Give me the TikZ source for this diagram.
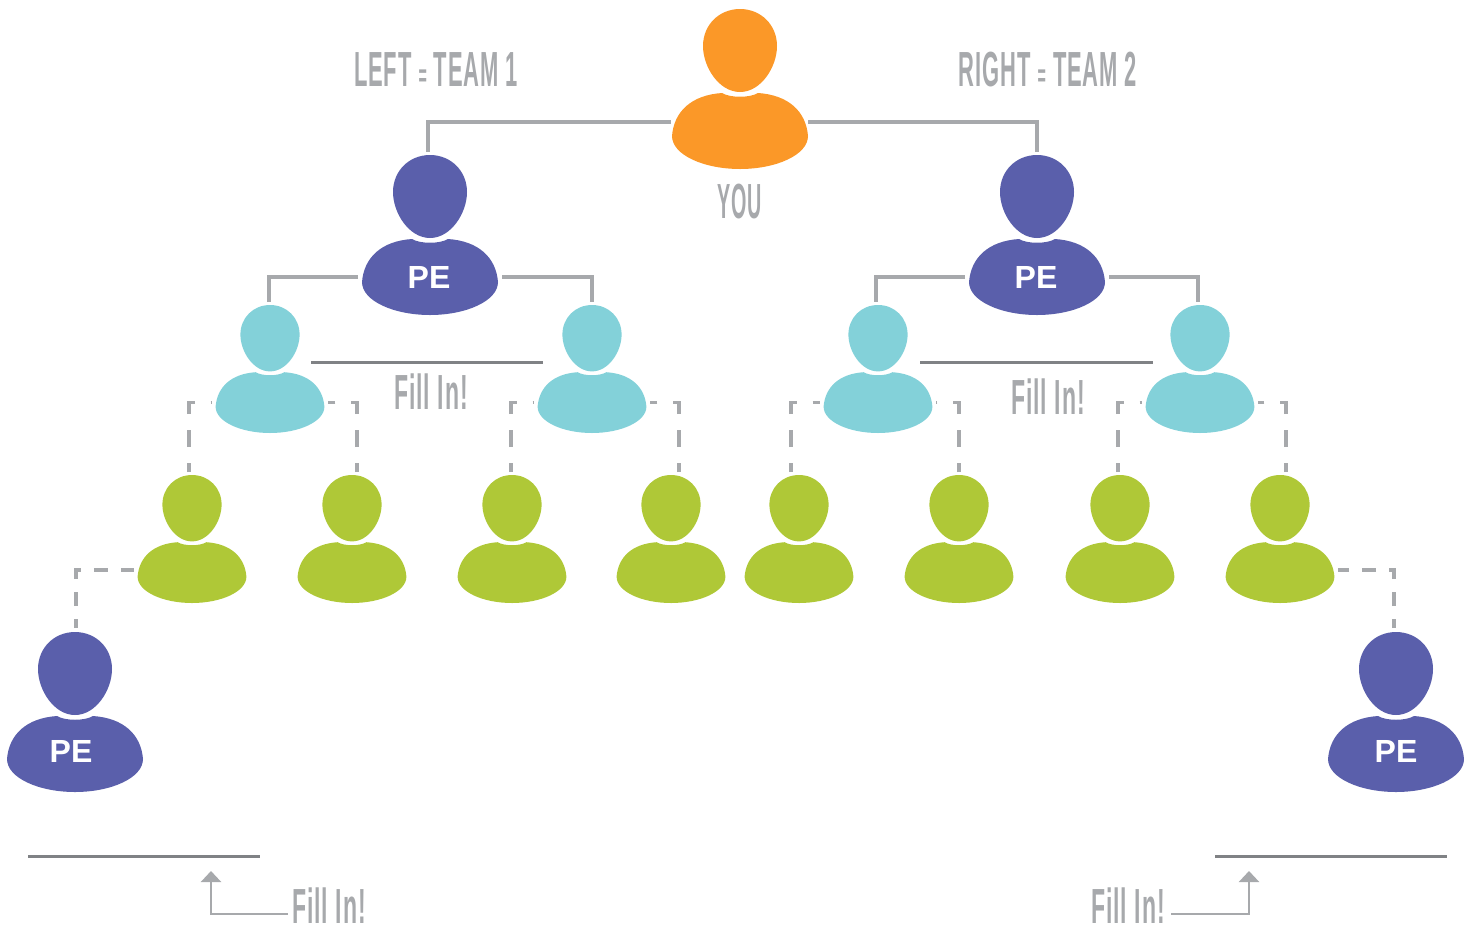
\documentclass[tikz,border=0pt]{standalone}
\usepackage{fontspec}
\usetikzlibrary{arrows.meta}
\newfontfamily\labelfont[LetterSpace=4]{Liberation Sans}
\newfontfamily\badgefont{Liberation Sans}
\definecolor{youorange}{HTML}{FB9828}
\definecolor{pepurple}{HTML}{5A5FAB}
\definecolor{legteal}{HTML}{83D1D9}
\definecolor{fillgreen}{HTML}{AFC837}
\definecolor{linkgrey}{HTML}{A7A9AC}
\definecolor{blankgrey}{HTML}{808285}
\tikzset{
  person/.pic={
    \fill[pic actions] (0,0) .. controls (21,0) and (37,16) .. (37,37)
      .. controls (37,58) and (21,83) .. (0,83)
      .. controls (-21,83) and (-37,58) .. (-37,37)
      .. controls (-37,16) and (-21,0) .. (0,0) -- cycle;
    \fill[pic actions] (-18,84) .. controls (-10,89) and (10,89) .. (18,84)
      .. controls (48,86) and (66,102) .. (68,127)
      .. controls (68,146) and (36,160) .. (0,160)
      .. controls (-36,160) and (-68,146) .. (-68,127)
      .. controls (-66,102) and (-48,86) .. (-18,84) -- cycle;
    \coordinate (-west) at (-72,122);
    \coordinate (-east) at (72,122);
  },
  link/.style={color=linkgrey, line width=2.5pt},
  dashlink/.style={link, dash pattern=on 12.75pt off 12pt, dash phase=6pt},
  sidelink/.style={link, dash pattern=on 10.5pt off 9.75pt, dash phase=3.75pt},
  blank/.style={color=blankgrey, line width=2.25pt},
  pointer/.style={color=linkgrey, line width=1.75pt, -{Triangle[width=15pt,length=8.25pt]}},
  badge/.style={text=white, font=\badgefont\bfseries\fontsize{24}{24}\selectfont},
  handtext/.style={text=linkgrey, inner sep=0pt, xscale=0.445, font=\labelfont\bfseries\fontsize{37}{37}\selectfont},
  filltext/.style={handtext, xscale=1.05}
}
\newcommand{\smalleq}{{\fontsize{24}{24}\selectfont =}}
\begin{document}
\begin{tikzpicture}[x=0.75pt, y=-0.75pt]
    \useasboundingbox (0,0) rectangle (1474,929);

    % draw the people
    \pic[fill=youorange] (you) at (740,9) {person};
    \foreach \name/\x/\y in {leadA/430/155, leadB/1037/155, sideA/75/632, sideB/1396/632}
      \pic[fill=pepurple] (\name) at (\x,\y) {person};
    \foreach \name/\x in {legA/270, legB/592, legC/878, legD/1200}
      \pic[fill=legteal, scale=0.8] (\name) at (\x,305) {person};
    \foreach \name/\x in {recA/192, recB/352, recC/512, recD/671, recE/799, recF/959, recG/1120, recH/1280}
      \pic[fill=fillgreen, scale=0.8] (\name) at (\x,475) {person};

    % draw labels
    \node[badge] (peA) at (429,277) {PE};
    \node[badge] (peB) at (1036,277) {PE};
    \node[badge] (peC) at (71,751) {PE};
    \node[badge] (peD) at (1396,751) {PE};
    \node[handtext] (teamA) at (436,70) {LEFT \smalleq{} TEAM 1};
    \node[handtext] (teamB) at (1048,70) {RIGHT \smalleq{} TEAM 2};
    \node[handtext, xscale=0.9] (youtext) at (740,202) {YOU};
    \node[filltext] (fillA) at (431,392) {Fill In!};
    \node[filltext] (fillB) at (1048,397) {Fill In!};
    \node[filltext] (fillC) at (329,906) {Fill In!};
    \node[filltext] (fillD) at (1128,906) {Fill In!};

    % free ends of the connectors
    \coordinate (youW) at (671,122);
    \coordinate (youE) at (808,122);
    \coordinate (inA) at (428,152);
    \coordinate (inB) at (1037,152);
    \coordinate (inC) at (269,302);
    \coordinate (inD) at (592,302);
    \coordinate (inE) at (876,302);
    \coordinate (inF) at (1198,302);

    % draw solid links
    \draw[link] (youW) -| (inA);
    \draw[link] (youE) -| (inB);
    \draw[link] (leadA-west) -| (inC);
    \draw[link] (leadA-east) -| (inD);
    \draw[link] (leadB-west) -| (inE);
    \draw[link] (leadB-east) -| (inF);

    % draw dashed links
    \foreach \x/\leg in {189/legA-west, 357/legA-east, 511/legB-west, 679/legB-east,
                         791/legC-west, 959/legC-east, 1118/legD-west, 1286/legD-east}
      \draw[dashlink] (\x,472) |- (\leg);
    \coordinate (inG) at (76,628);
    \coordinate (inH) at (1394,628);
    \draw[sidelink] (inG) |- ([yshift=2pt]recA-west);
    \draw[sidelink] (inH) |- ([yshift=2pt]recH-east);

    % draw blanks
    \draw[blank] (311,362) coordinate (blankA) -- (543,362);
    \draw[blank] (920,362) coordinate (blankB) -- (1153,362);
    \draw[blank] (28,856) coordinate (blankC) -- (260,856);
    \draw[blank] (1215,856) coordinate (blankD) -- (1447,856);

    % draw pointers
    \coordinate (fromC) at (288,914);
    \coordinate (fromD) at (1171,914);
    \coordinate (toC) at (211,871);
    \coordinate (toD) at (1249,871);
    \draw[pointer] (fromC) -| (toC);
    \draw[pointer] (fromD) -| (toD);
\end{tikzpicture}
\end{document}
